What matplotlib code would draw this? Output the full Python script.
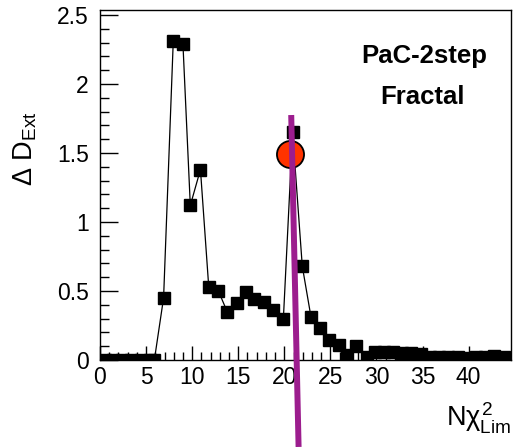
import numpy as np
import matplotlib
matplotlib.use('Agg')
import matplotlib.pyplot as plt
from matplotlib.ticker import MultipleLocator, FormatStrFormatter

plt.rcParams['font.family'] = ['Liberation Sans', 'DejaVu Sans']
plt.rcParams['mathtext.fontset'] = 'custom'
plt.rcParams['mathtext.rm'] = 'Liberation Sans'
plt.rcParams['mathtext.it'] = 'Liberation Sans'

# data
nchi2 = [0.5, 1.4, 2.4, 3.4, 4.4, 5.4, 5.9, 6.9, 7.95, 9.0, 9.8, 10.9, 11.8, 12.85,
         13.8, 14.85, 15.8, 16.7, 17.8, 18.8, 19.9, 20.9, 21.95, 22.9, 23.9, 24.9,
         25.95, 26.8, 27.8, 28.95, 29.8, 30.8, 31.8, 32.8, 33.8, 34.8, 35.8, 36.8,
         37.8, 38.8, 39.8, 40.8, 41.8, 42.8, 43.8]
dext = [0, 0, 0, 0, 0, 0, 0, 0.45, 2.31, 2.29, 1.12, 1.38, 0.53, 0.50,
        0.35, 0.41, 0.49, 0.44, 0.42, 0.36, 0.30, 1.65, 0.68, 0.31, 0.23, 0.145,
        0.11, 0.035, 0.10, 0.02, 0.06, 0.06, 0.06, 0.05, 0.05, 0.04, 0.02, 0.02,
        0.02, 0.02, 0.015, 0.02, 0.02, 0.03, 0.02]

sel_x, sel_y = 20.6, 1.49          # red circle
cut_x = [20.75, 21.55]             # purple line
cut_y = [1.775, -0.63]

W, H = 513, 447
fig = plt.figure(figsize=(W/100, H/100), dpi=100)
ax = fig.add_axes([100/W, 87/H, 411/W, 350/H])

ax.plot(nchi2, dext, color='black', lw=0.9, marker='s', ms=8,
        mfc='black', mec='black', zorder=3)
ax.plot([sel_x], [sel_y], marker='o', ms=19.5, mfc='#ff3300', mec='black',
        mew=1.3, ls='none', zorder=4)
ax.plot(cut_x, cut_y, color='#9c1d8e', lw=4.3, solid_capstyle='butt',
        clip_on=False, zorder=5)

ax.set_xlim(0, 44.6)
ax.set_ylim(0, 2.536)
ax.xaxis.set_major_locator(MultipleLocator(5))
ax.xaxis.set_minor_locator(MultipleLocator(1))
ax.yaxis.set_major_locator(MultipleLocator(0.5))
ax.yaxis.set_minor_locator(MultipleLocator(0.1))
ax.yaxis.set_major_formatter(FormatStrFormatter('%g'))
ax.xaxis.set_major_formatter(FormatStrFormatter('%g'))
ax.tick_params(which='both', direction='in', top=False, right=False,
               labelsize=16.5, width=1)
ax.tick_params(which='major', length=10)
ax.tick_params(which='minor', length=5.5)
ax.tick_params(axis='y', which='major', length=13, pad=8)
ax.tick_params(axis='y', which='minor', length=6.5)
ax.tick_params(axis='x', pad=4)
for s in ax.spines.values():
    s.set_linewidth(1)

fig.text(424/W, 1 - 56/H, 'PaC-2step', fontsize=18.5, fontweight='bold',
         ha='center', va='center')
fig.text(422/W, 1 - 97/H, 'Fractal', fontsize=18.5, fontweight='bold',
         ha='center', va='center')

fig.text(25/W, 1 - 149/H, r'$\Delta$ D$_{\rm Ext}$', rotation=90,
         fontsize=19.5, ha='center', va='center')
fig.text(511/W, 1 - 418/H, r'N$\chi^2_{\rm Lim}$', fontsize=19.5,
         ha='right', va='center')

fig.savefig('out.png', dpi=100)
